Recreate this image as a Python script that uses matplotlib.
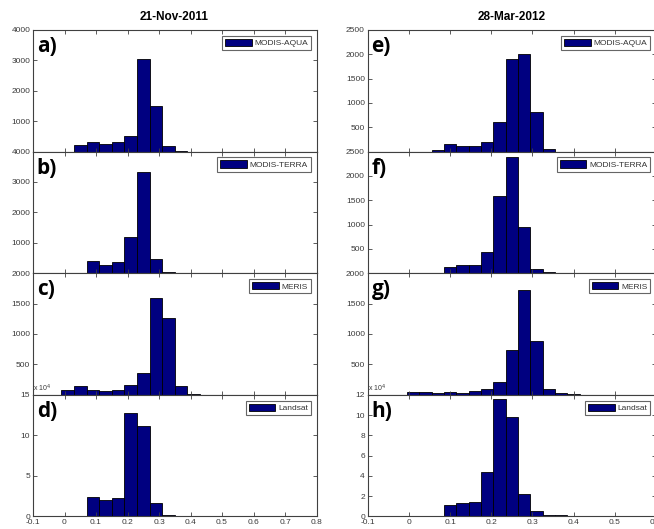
import numpy as np
import matplotlib.pyplot as plt

plt.rcParams['font.family'] = ['Liberation Sans', 'DejaVu Sans']

dates = ['21-Nov-2011', '28-Mar-2012']
sensors = ['MODIS-AQUA', 'MODIS-TERRA', 'MERIS', 'Landsat']
tags = [['a)', 'b)', 'c)', 'd)'], ['e)', 'f)', 'g)', 'h)']]

# left column, 21-Nov-2011 (bin width 0.04)
centers_a = [0.05, 0.09, 0.13, 0.17, 0.21, 0.25, 0.29, 0.33, 0.37]
counts_a = [210, 310, 240, 320, 505, 3050, 1510, 175, 30]
centers_b = [0.09, 0.13, 0.17, 0.21, 0.25, 0.29, 0.33]
counts_b = [405, 275, 370, 1185, 3330, 480, 50]
centers_c = [0.01, 0.05, 0.09, 0.13, 0.17, 0.21, 0.25, 0.29, 0.33, 0.37, 0.41]
counts_c = [71, 137, 77, 66, 77, 158, 355, 1600, 1262, 137, 5]
centers_d = [0.09, 0.13, 0.17, 0.21, 0.25, 0.29, 0.33, 0.37, 0.41]
counts_d = [2.35, 2.0, 2.3, 12.7, 11.1, 1.7, 0.2, 0.06, 0.05]   # x 10^4

# right column, 28-Mar-2012 (bin width 0.03)
centers_e = [0.07, 0.10, 0.13, 0.16, 0.19, 0.22, 0.25, 0.28, 0.31, 0.34]
counts_e = [35, 158, 124, 110, 200, 600, 1910, 2010, 815, 48]
centers_f = [0.10, 0.13, 0.16, 0.19, 0.22, 0.25, 0.28, 0.31, 0.34]
counts_f = [123, 178, 178, 439, 1578, 2393, 946, 96, 15]
centers_g = [0.01, 0.04, 0.07, 0.10, 0.13, 0.16, 0.19, 0.22, 0.25, 0.28,
             0.31, 0.34, 0.37, 0.40]
counts_g = [44, 38, 27, 44, 33, 66, 93, 205, 735, 1730, 880, 90, 27, 10]
centers_h = [0.10, 0.13, 0.16, 0.19, 0.22, 0.25, 0.28, 0.31, 0.34, 0.37, 0.40]
counts_h = [1.09, 1.29, 1.42, 4.39, 11.55, 9.8, 2.24, 0.56, 0.17, 0.1, 0.07]  # x 10^4

cols = [
    dict(width=0.04, xlim=(-0.1, 0.8), xticks=[-0.1, 0, 0.1, 0.2, 0.3, 0.4, 0.5, 0.6, 0.7, 0.8],
         panels=[(centers_a, counts_a, 4000, [1000, 2000, 3000, 4000]),
                 (centers_b, counts_b, 4000, [1000, 2000, 3000, 4000]),
                 (centers_c, counts_c, 2000, [500, 1000, 1500, 2000]),
                 (centers_d, counts_d, 15, [0, 5, 10, 15])]),
    dict(width=0.03, xlim=(-0.1, 0.6), xticks=[-0.1, 0, 0.1, 0.2, 0.3, 0.4, 0.5, 0.6],
         panels=[(centers_e, counts_e, 2500, [500, 1000, 1500, 2000, 2500]),
                 (centers_f, counts_f, 2500, [500, 1000, 1500, 2000, 2500]),
                 (centers_g, counts_g, 2000, [500, 1000, 1500, 2000]),
                 (centers_h, counts_h, 12, [0, 2, 4, 6, 8, 10, 12])]),
]

W, H = 654, 529
fig = plt.figure(figsize=(W / 100, H / 100), dpi=100)
fig.patch.set_facecolor('white')

col_x = [(33, 283.5), (367.7, 288.3)]
top, row_h = 30, 121.6
tick_col = '#3a3a3a'

for c, col in enumerate(cols):
    x0, w = col_x[c]
    for r, (cen, cnt, ymax, yt) in enumerate(col['panels']):
        y0 = 1 - (top + row_h * (r + 1)) / H
        ax = fig.add_axes([x0 / W, y0, w / W, row_h / H])
        ax.bar(cen, cnt, width=col['width'], color='#000080',
               edgecolor='black', linewidth=0.6, label=sensors[r])
        ax.set_xlim(*col['xlim'])
        ax.set_ylim(0, ymax)
        ax.set_xticks(col['xticks'])
        ax.set_yticks(yt)
        ax.set_yticklabels([f'{v:g}' for v in yt])
        if r == 3:
            ax.set_xticklabels([f'{v:g}' for v in col['xticks']])
            ax.text(0.0, 1.01, r'x 10$^4$', transform=ax.transAxes,
                    fontsize=5, color=tick_col, ha='left', va='bottom')
        else:
            ax.set_xticklabels([])
        ax.tick_params(direction='in', length=3, width=0.6, top=True, right=True,
                       labelsize=6, labelcolor=tick_col, colors='#404040', pad=2)
        ax.tick_params(axis='y', labelcolor=tick_col)
        for s in ax.spines.values():
            s.set_color('#404040')
            s.set_linewidth(0.8)
        ax.text(0.013, 0.95, tags[c][r], transform=ax.transAxes, fontsize=15,
                fontweight='bold', family='Open Sans', ha='left', va='top')
        leg = ax.legend(loc='upper right', fontsize=6, frameon=True, fancybox=False,
                        borderaxespad=0.7, borderpad=0.35, handlelength=3.2,
                        handleheight=1.0, handletextpad=0.3)
        leg.get_frame().set_edgecolor('#404040')
        leg.get_frame().set_linewidth(0.8)
        for t in leg.get_texts():
            t.set_color('#333333')

fig.text(174 / W, 1 - 16.5 / H, dates[0], fontsize=8.5, fontweight='bold',
         ha='center', va='center')
fig.text(511.7 / W, 1 - 16.5 / H, dates[1], fontsize=8.5, fontweight='bold',
         ha='center', va='center')

fig.savefig('out.png', dpi=100)
